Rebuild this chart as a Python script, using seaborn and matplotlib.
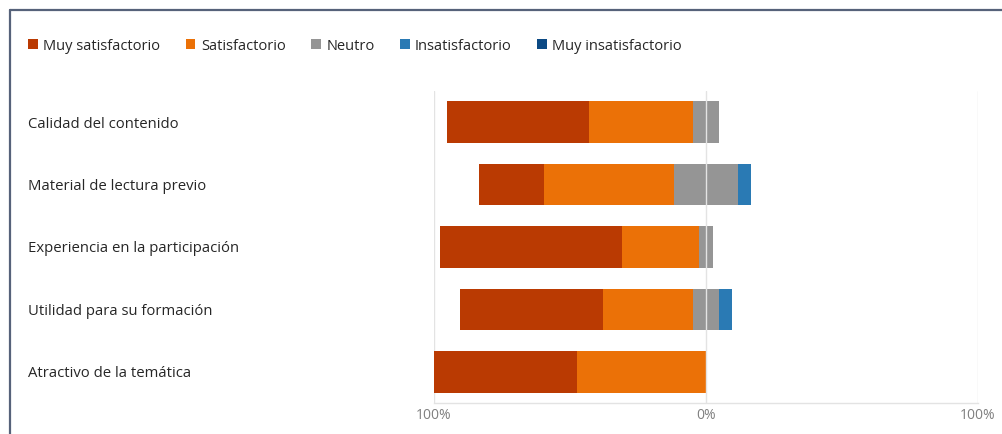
import pandas as pd
import matplotlib.pyplot as plt
import seaborn as sns
from matplotlib.patches import Patch
from matplotlib.lines import Line2D

# Data (percent of responses per aspect)
aspects = ["Calidad del contenido", "Material de lectura previo",
           "Experiencia en la participación", "Utilidad para su formación",
           "Atractivo de la temática"]
muy_satisfactorio = [52.4, 23.8, 66.7, 52.4, 52.4]
satisfactorio = [38.1, 47.6, 28.6, 33.3, 47.6]
neutro = [9.5, 23.8, 4.8, 9.5, 0.0]
insatisfactorio = [0.0, 4.8, 0.0, 4.8, 0.0]
muy_insatisfactorio = [0.0, 0.0, 0.0, 0.0, 0.0]

levels = ["Muy satisfactorio", "Satisfactorio", "Neutro", "Insatisfactorio", "Muy insatisfactorio"]
colors = ["#BA3A02", "#EB7107", "#959595", "#2A7AB4", "#0C4A84"]

df = pd.DataFrame({"aspect": aspects, "ms": muy_satisfactorio, "s": satisfactorio,
                   "n": neutro, "i": insatisfactorio, "mi": muy_insatisfactorio})

# Diverging: satisfied to the left, unsatisfied to the right, neutral centred on 0
half = df["n"] / 2
layers = [
    (-(df["ms"] + df["s"] + half), colors[0]),
    (-(df["s"] + half), colors[1]),
    (-half, colors[2]),
    (half + df["i"] + df["mi"], colors[4]),
    (half + df["i"], colors[3]),
    (half, colors[2]),
]

sns.set_style("white")
plt.rcParams['font.family'] = ['Open Sans', 'DejaVu Sans']

fig = plt.figure(figsize=(10.03, 4.34), dpi=100)
ax = fig.add_axes([434 / 1003, 1 - 403 / 434, 544 / 1003, 312 / 434])

for ends, c in layers:
    sns.barplot(x=ends.values, y=df["aspect"], color=c, orient="h", width=0.667,
                linewidth=0, saturation=1, ax=ax)

ax.set_xlim(-100, 100)
ax.set_ylim(4.5, -0.5)
ax.set_xticks([-100, 0, 100])
ax.set_xticklabels(["100%", "0%", "100%"], color="#7f7f7f", fontsize=10)
ax.tick_params(axis="x", length=0, pad=3.5)
ax.tick_params(axis="y", length=0, pad=292)
for lab in ax.get_yticklabels():
    lab.set_ha("left")
    lab.set_color("#262626")
    lab.set_fontsize(10.7)
ax.set_xlabel("")
ax.set_ylabel("")

for x in [-100, 100]:
    ax.axvline(x, color="#e3e3e3", lw=1, zorder=0)
ax.axvline(0, color="#e3e3e3", lw=1, zorder=5)
for side in ["top", "left", "right"]:
    ax.spines[side].set_visible(False)
ax.spines["bottom"].set_color("#e3e3e3")
ax.spines["bottom"].set_linewidth(1)

handles = [Patch(facecolor=c, edgecolor="none") for c in colors]
fig.legend(handles, levels, loc="center left", bbox_to_anchor=(28 / 1003, 1 - 46 / 434),
           ncol=5, frameon=False, fontsize=10.5, handlelength=0.68, handleheight=0.68,
           handletextpad=0.38, columnspacing=1.72, borderpad=0, borderaxespad=0,
           labelcolor="#262626")

# outer frame (top and left edges of the panel)
fig.add_artist(Line2D([10 / 1003, 1], [1 - 9.5 / 434] * 2, color="#56627a", lw=1.6))
fig.add_artist(Line2D([10 / 1003] * 2, [0, 1 - 9.5 / 434], color="#56627a", lw=1.6))

fig.savefig("out.png", dpi=100, facecolor="white")
